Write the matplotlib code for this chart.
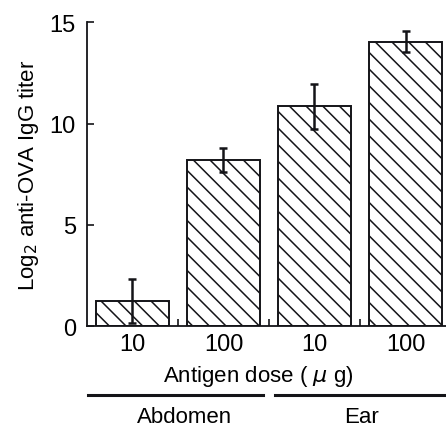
import matplotlib.pyplot as plt
from matplotlib.transforms import blended_transform_factory

plt.rcParams['font.family'] = ['Liberation Sans', 'DejaVu Sans']
plt.rcParams['hatch.linewidth'] = 1.1

dose_labels = ['10', '100', '10', '100']
titer_mean = [1.25, 8.2, 10.85, 14.05]
titer_err = [1.1, 0.6, 1.1, 0.5]
groups = ['Abdomen', 'Ear']
group_spans = [(-0.49, 1.43), (1.57, 3.5)]
group_text_x = [0.57, 2.52]

ink = '#141418'

fig = plt.figure(figsize=(4.46, 4.31), dpi=100)
ax = fig.add_axes([0.195, 0.241, 0.805, 0.705])

x = list(range(len(titer_mean)))
ax.bar(x, titer_mean, width=0.81, color='white', edgecolor=ink,
       linewidth=1.4, hatch='\\\\')
ax.errorbar(x, titer_mean, yerr=titer_err, fmt='none', ecolor=ink,
            elinewidth=1.8, capsize=3, capthick=1.8)

ax.set_xlim(-0.5, 3.445)
ax.set_ylim(0, 15)
ax.set_yticks([0, 5, 10, 15])
ax.set_xticks(x)
ax.set_xticklabels(dose_labels)
ax.set_xticks([0.5, 1.5, 2.5], minor=True)
ax.tick_params(axis='x', which='major', length=0, pad=5, labelsize=17)
ax.tick_params(axis='x', which='minor', direction='in', length=5,
               width=1.2, color=ink)
ax.tick_params(axis='y', direction='in', length=5, width=1.2, color=ink,
               labelsize=17, pad=8)

for side in ['top', 'right']:
    ax.spines[side].set_visible(False)
for side in ['left', 'bottom']:
    ax.spines[side].set_color(ink)
    ax.spines[side].set_linewidth(1.3)

ax.set_xlabel('Antigen dose ( $\\mu$ g)', fontsize=16)
ax.xaxis.set_label_coords(0.476, -0.18)
ax.xaxis.label.set_va('baseline')
ax.set_ylabel('Log$_2$ anti-OVA IgG titer', fontsize=16, labelpad=6)

trans = blended_transform_factory(ax.transData, ax.transAxes)
for name, (x0, x1), tx in zip(groups, group_spans, group_text_x):
    ax.plot([x0, x1], [-0.226, -0.226], color=ink, linewidth=2.2,
            transform=trans, clip_on=False)
    ax.text(tx, -0.296, name, transform=trans, ha='center', va='center',
            fontsize=16)

fig.savefig('out.png', dpi=100)
